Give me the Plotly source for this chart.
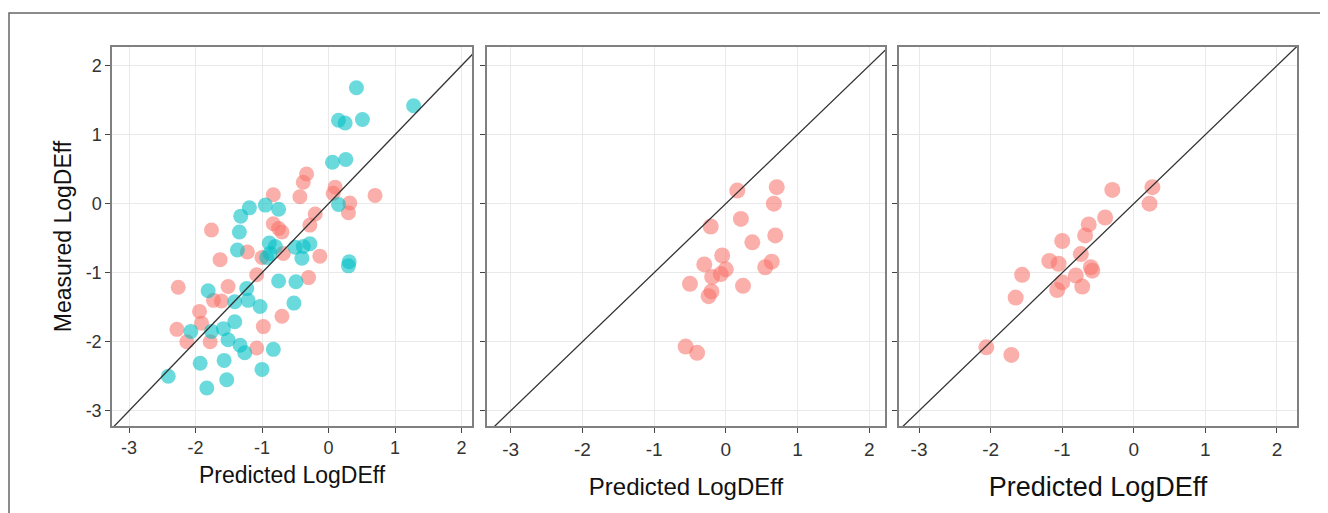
import plotly.graph_objects as go

W, H = 1328, 513
OFF = 8  # page offset of the figure inside the browser window

# ---------------- data ----------------
# Panel 1: two groups
p1_red_x = [-0.33, -0.38, 0.10, 0.07, 0.70, -0.43, -0.83, 0.32, 0.30, -0.20, -0.28, -0.83,
            -0.75, -0.70, -1.76, -1.22, -1.63, -1.00, -0.68, -0.13, -0.30, -1.08, -2.26,
            -1.51, -1.73, -1.61, -1.94, -1.91, -2.28, -2.13, -1.78, -0.98, -1.08, -0.70]
p1_red_y = [0.43, 0.31, 0.24, 0.15, 0.12, 0.10, 0.13, 0.01, -0.13, -0.15, -0.31, -0.29,
            -0.36, -0.41, -0.38, -0.70, -0.81, -0.78, -0.72, -0.76, -1.07, -1.03, -1.21,
            -1.20, -1.40, -1.41, -1.56, -1.73, -1.82, -2.00, -2.00, -1.78, -2.09, -1.63]
p1_teal_x = [0.42, 1.28, 0.15, 0.25, 0.51, 0.06, 0.26, 0.15, -0.75, -0.95, -1.19, -1.32,
             -1.34, -1.37, -0.89, -0.80, -0.93, -0.50, -0.38, -0.28, -0.40, 0.31, 0.30,
             -0.75, -0.49, -0.52, -1.81, -1.23, -1.41, -1.21, -1.03, -1.41, -1.58, -1.76,
             -2.07, -1.51, -1.33, -1.26, -0.83, -1.93, -1.57, -1.00, -2.41, -1.53, -1.83,
             -0.88]
p1_teal_y = [1.68, 1.42, 1.21, 1.17, 1.22, 0.60, 0.64, -0.01, -0.08, -0.02, -0.06, -0.18,
             -0.41, -0.67, -0.57, -0.62, -0.78, -0.63, -0.62, -0.58, -0.79, -0.84, -0.90,
             -1.12, -1.13, -1.44, -1.26, -1.23, -1.42, -1.40, -1.49, -1.71, -1.81, -1.85,
             -1.85, -1.97, -2.05, -2.16, -2.11, -2.31, -2.27, -2.40, -2.50, -2.55, -2.67,
             -0.72]

# Panel 2
p2_x = [0.16, 0.71, 0.67, 0.21, -0.21, 0.69, 0.37, -0.05, -0.30, 0.00, -0.07, -0.19,
        0.64, 0.55, -0.50, 0.24, -0.20, -0.24, -0.56, -0.40]
p2_y = [0.19, 0.24, 0.00, -0.22, -0.33, -0.46, -0.56, -0.75, -0.88, -0.95, -1.02, -1.06,
        -0.84, -0.92, -1.16, -1.19, -1.27, -1.34, -2.07, -2.16]

# Panel 3
p3_x = [-0.30, 0.26, 0.22, -0.40, -0.63, -0.68, -1.00, -0.74, -1.18, -1.05, -0.60, -0.58,
        -0.81, -1.56, -1.00, -1.07, -0.72, -1.65, -2.06, -1.71]
p3_y = [0.20, 0.24, 0.00, -0.20, -0.30, -0.46, -0.54, -0.73, -0.83, -0.87, -0.92, -0.97,
        -1.04, -1.03, -1.14, -1.25, -1.20, -1.36, -2.08, -2.19]

tick_vals = [-3, -2, -1, 0, 1, 2]
tick_text = ["-3", "-2", "-1", "0", "1", "2"]
diag = [-4, 3]

RED = "#F8766D"
TEAL = "#00BFC4"

# ---------------- figure ----------------
fig = go.Figure()

def pts(x, y, col, xa, ya, size):
    fig.add_trace(go.Scatter(x=x, y=y, mode="markers", xaxis=xa, yaxis=ya,
                             marker=dict(color=col, size=size, opacity=0.58, line=dict(width=0)),
                             showlegend=False, hoverinfo="x+y"))

def line(xa, ya):
    fig.add_trace(go.Scatter(x=diag, y=diag, mode="lines", xaxis=xa, yaxis=ya,
                             line=dict(color="#333333", width=1.3),
                             showlegend=False, hoverinfo="skip"))

pts(p1_red_x, p1_red_y, RED, "x", "y", 15)
pts(p1_teal_x, p1_teal_y, TEAL, "x", "y", 15)
line("x", "y")
pts(p2_x, p2_y, RED, "x2", "y2", 16)
line("x2", "y2")
pts(p3_x, p3_y, RED, "x3", "y3", 16)
line("x3", "y3")

def dx(a, b):
    return [(a - OFF) / W, (b - OFF) / W]

ydom = [1 - (426 - OFF) / H, 1 - (47 - OFF) / H]
yr = [-3.22, 2.27]

FONT = "Liberation Sans, Arial, sans-serif"

def xaxis(dom, rng, anchor, tfs, title, titfs, standoff):
    return dict(domain=dom, range=rng, anchor=anchor, tickvals=tick_vals, ticktext=tick_text,
                ticks="outside", ticklen=5, tickwidth=1.2, tickcolor="#444444",
                tickfont=dict(family=FONT, size=tfs, color="#333333"),
                showline=True, mirror=True, linecolor="#808080", linewidth=1.5,
                showgrid=True, gridcolor="#E9E9E9", gridwidth=1, zeroline=False,
                title=dict(text=title, font=dict(family=FONT, size=titfs, color="#111111"),
                           standoff=standoff),
                automargin=False)

def yaxis(anchor, show_labels):
    d = dict(domain=ydom, range=yr, anchor=anchor, tickvals=tick_vals,
             ticktext=tick_text if show_labels else [""] * len(tick_vals),
             ticks="outside", ticklen=5, tickwidth=1.2, tickcolor="#444444",
             tickfont=dict(family=FONT, size=18, color="#333333"),
             showline=True, mirror=True, linecolor="#808080", linewidth=1.5,
             showgrid=True, gridcolor="#E9E9E9", gridwidth=1, zeroline=False,
             automargin=False)
    if show_labels:
        d["title"] = dict(text="Measured LogDEff",
                          font=dict(family=FONT, size=23, color="#111111"), standoff=8)
    return d

fig.update_layout(
    width=W, height=H,
    margin=dict(l=0, r=0, t=0, b=0),
    paper_bgcolor="white", plot_bgcolor="white",
    xaxis=xaxis(dx(112, 472), [-3.256, 2.158], "y", 18, "Predicted LogDEff", 23, 10),
    xaxis2=xaxis(dx(487, 885), [-3.33, 2.22], "y2", 19, "Predicted LogDEff", 24, 20),
    xaxis3=xaxis(dx(899, 1297), [-3.28, 2.28], "y3", 19, "Predicted LogDEff", 27, 19),
    yaxis=yaxis("x", True),
    yaxis2=yaxis("x2", False),
    yaxis3=yaxis("x3", False),
    shapes=[dict(type="rect", xref="paper", yref="paper",
                 x0=1 / W, x1=1.2, y0=-0.2, y1=1 - (13 - OFF) / H,
                 line=dict(color="#666666", width=1.5), fillcolor="rgba(0,0,0,0)")],
)

fig.write_html("out.html")
